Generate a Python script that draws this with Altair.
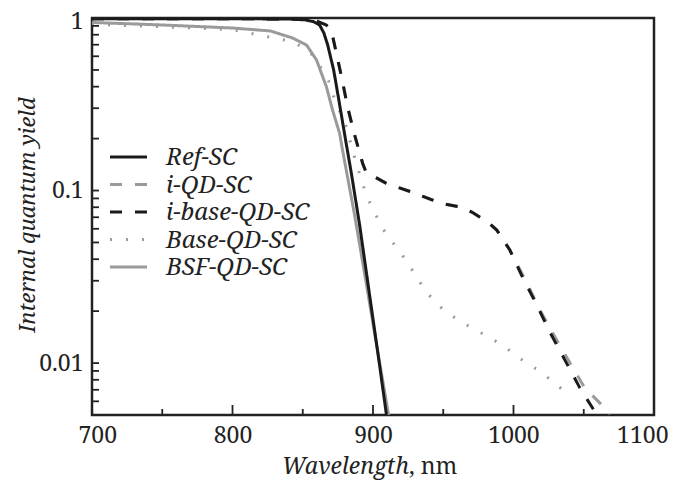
import altair as alt
import pandas as pd

# ---- data ----
series_names = ["Ref-SC", "i-QD-SC", "i-base-QD-SC", "Base-QD-SC", "BSF-QD-SC"]
legend_rows = [0, 1, 2, 3, 4]

ref_wl = [700, 750, 800, 840, 852, 858, 862, 865, 867.7, 872, 876.3, 880.5, 884.8, 890.5, 897.6, 904.7, 909.6]
ref_qy = [0.99, 0.99, 0.99, 0.987, 0.975, 0.95, 0.91, 0.82, 0.70, 0.50, 0.313, 0.196, 0.123, 0.063, 0.0247, 0.0097, 0.005]

ibase_wl = [700, 750, 800, 850, 860, 866.7, 870.3, 873.9, 878.1, 881.9, 886.9, 892.6, 895, 909.5, 929.6, 947.5,
            961.9, 970.3, 981.7, 988.1, 997.4, 1006.7, 1016.6, 1025.9, 1036.6, 1047.3, 1059.4]
ibase_qy = [0.99, 0.99, 0.99, 0.985, 0.96, 0.911, 0.852, 0.627, 0.437, 0.305, 0.210, 0.144, 0.128, 0.110, 0.0967, 0.0847,
            0.0802, 0.0750, 0.0657, 0.059, 0.0452, 0.0311, 0.0217, 0.0151, 0.0104, 0.00716, 0.005]

iqd_wl = [700, 750, 800, 850, 860, 866.7, 870.3, 873.9, 878.1, 881.9, 886.9, 892.6, 895, 909.5, 929.6, 947.5,
          961.9, 970.3, 981.7, 988.1, 997.4, 1009.5, 1018.8, 1029.5, 1040.2, 1050.8, 1065.1, 1068]
iqd_qy = [0.99, 0.99, 0.99, 0.985, 0.96, 0.911, 0.852, 0.627, 0.437, 0.305, 0.210, 0.144, 0.128, 0.110, 0.0967, 0.0847,
          0.0802, 0.0750, 0.0657, 0.059, 0.0452, 0.0291, 0.0203, 0.01415, 0.0100, 0.00716, 0.00548, 0.005]

base_wl = [700, 750, 800, 843, 855, 862, 869.2, 872.7, 877.5, 882, 884.6, 888.2, 891.8, 895.8, 901.2, 907.1, 915.4,
           923.8, 930.9, 938.4, 949.4, 960.5, 971.9, 983.6, 995.0, 1006.4, 1018.3, 1029.4, 1040.9]
base_qy = [0.92, 0.89, 0.855, 0.729, 0.638, 0.53, 0.420, 0.335, 0.274, 0.224, 0.179, 0.144, 0.115, 0.092, 0.0743, 0.0598, 0.0483,
           0.0392, 0.0316, 0.0255, 0.0206, 0.0178, 0.0157, 0.0140, 0.0122, 0.0104, 0.00902, 0.00766, 0.00633]

bsf_wl = [700, 750, 800, 827, 842.7, 852.7, 859.8, 866.9, 871.2, 876.2, 878.3, 886.9, 894.8, 902.6, 911.1]
bsf_qy = [0.942, 0.911, 0.875, 0.841, 0.766, 0.697, 0.571, 0.398, 0.293, 0.215, 0.172, 0.0721, 0.0303, 0.0127, 0.005]

x_label_values = [700, 800, 900, 1000, 1100]
x_major_ticks = [700, 800, 900, 1000, 1100]
x_minor_ticks = [750, 850, 950, 1050]
y_label_values = [0.01, 0.1, 1]
y_tick_values = [0.005, 0.006, 0.007, 0.008, 0.009,
                 0.01, 0.02, 0.03, 0.04, 0.05, 0.06, 0.07, 0.08, 0.09,
                 0.1, 0.2, 0.3, 0.4, 0.5, 0.6, 0.7, 0.8, 0.9, 1]

# draw order: grey curves first, black on top
draw_order = [("BSF-QD-SC", bsf_wl, bsf_qy), ("Base-QD-SC", base_wl, base_qy),
              ("i-QD-SC", iqd_wl, iqd_qy), ("Ref-SC", ref_wl, ref_qy),
              ("i-base-QD-SC", ibase_wl, ibase_qy)]
rows = []
for name, wl, qy in draw_order:
    for w, q in zip(wl, qy):
        rows.append({"series": name, "wl": w, "qy": q})
df = pd.DataFrame(rows)
legend_df = pd.DataFrame({"series": series_names, "row": legend_rows})

BLACK = "#1a1a1a"
GREY = "#9a9a9a"
TXT = "#222222"
FONT = "Noto Serif"

color_range = [BLACK, GREY, BLACK, GREY, GREY]
dash_range = [[1, 0], [12, 13], [12, 13], [2, 14], [1, 0]]

W, H = 562, 397
xscale = alt.Scale(domain=[700, 1100], nice=False, zero=False)
yscale = alt.Scale(type="log", domain=[0.005, 1], nice=False)
cscale = alt.Scale(domain=series_names, range=color_range)
dscale = alt.Scale(domain=series_names, range=dash_range)
rowscale = alt.Scale(type="point", domain=legend_rows, range=[139, 249], padding=0)

lines = alt.Chart(df).mark_line(strokeWidth=3, clip=True).encode(
    x=alt.X("wl:Q", scale=xscale,
            axis=alt.Axis(values=x_label_values, format="d", title=None, ticks=False, domain=False,
                          grid=False, labelFont=FONT, labelFontSize=23, labelColor=TXT,
                          labelPadding=9, labelFlush=1, labelFlushOffset=14)),
    y=alt.Y("qy:Q", scale=yscale,
            axis=alt.Axis(values=y_label_values, format="~g", title=None, ticks=False, domain=False,
                          grid=False, labelFont=FONT, labelFontSize=23, labelColor=TXT,
                          labelPadding=9, labelFlush=1, labelFlushOffset=8)),
    color=alt.Color("series:N", scale=cscale, legend=None),
    strokeDash=alt.StrokeDash("series:N", scale=dscale, legend=None),
)

# inward-pointing ticks, placed through the scales
xmaj = alt.Chart(pd.DataFrame({"v": x_major_ticks})).mark_rule(color=TXT, strokeWidth=1.8).encode(
    x=alt.X("v:Q", scale=xscale), y=alt.value(H), y2=alt.value(H - 10))
xmin = alt.Chart(pd.DataFrame({"v": x_minor_ticks})).mark_rule(color=TXT, strokeWidth=1.8).encode(
    x=alt.X("v:Q", scale=xscale), y=alt.value(H), y2=alt.value(H - 6))
yt = alt.Chart(pd.DataFrame({"v": y_tick_values})).mark_rule(color=TXT, strokeWidth=1.8).encode(
    y=alt.Y("v:Q", scale=yscale, axis=None), x=alt.value(0), x2=alt.value(7))

# legend (in-plot, upper left)
leg_sym = alt.Chart(legend_df).mark_rule(strokeWidth=3).encode(
    x=alt.value(18), x2=alt.value(55),
    y=alt.Y("row:O", scale=rowscale, axis=None),
    color=alt.Color("series:N", scale=cscale, legend=None),
    strokeDash=alt.StrokeDash("series:N", scale=dscale, legend=None),
)
leg_txt = alt.Chart(legend_df).mark_text(
    font=FONT, fontSize=24, fontStyle="italic", align="left", baseline="middle", color=TXT, dy=1
).encode(
    x=alt.value(74),
    y=alt.Y("row:O", scale=rowscale, axis=None),
    text="series:N",
)

title_df = pd.DataFrame({"t": [0]})
x_title_a = alt.Chart(title_df).mark_text(
    text="Wavelength", font=FONT, fontSize=23, fontStyle="italic", align="right",
    baseline="alphabetic", color=TXT).encode(x=alt.value(317), y=alt.value(456))
x_title_b = alt.Chart(title_df).mark_text(
    text=", nm", font=FONT, fontSize=23, align="left",
    baseline="alphabetic", color=TXT).encode(x=alt.value(317), y=alt.value(456))
y_title = alt.Chart(title_df).mark_text(
    text="Internal quantum yield", font=FONT, fontSize=22, fontStyle="italic", angle=270,
    align="center", baseline="middle", color=TXT).encode(x=alt.value(-64), y=alt.value(197))

chart = alt.layer(lines, xmaj, xmin, yt, leg_sym, leg_txt, x_title_a, x_title_b, y_title).resolve_scale(
    y="independent"
).properties(
    width=W, height=H, autosize="none",
    padding={"left": 84, "top": 10, "right": 17, "bottom": 65},
    background="white",
).configure_view(stroke=TXT, strokeWidth=2.5)

chart.save("out.html", embed_options={"renderer": "svg", "actions": False})
